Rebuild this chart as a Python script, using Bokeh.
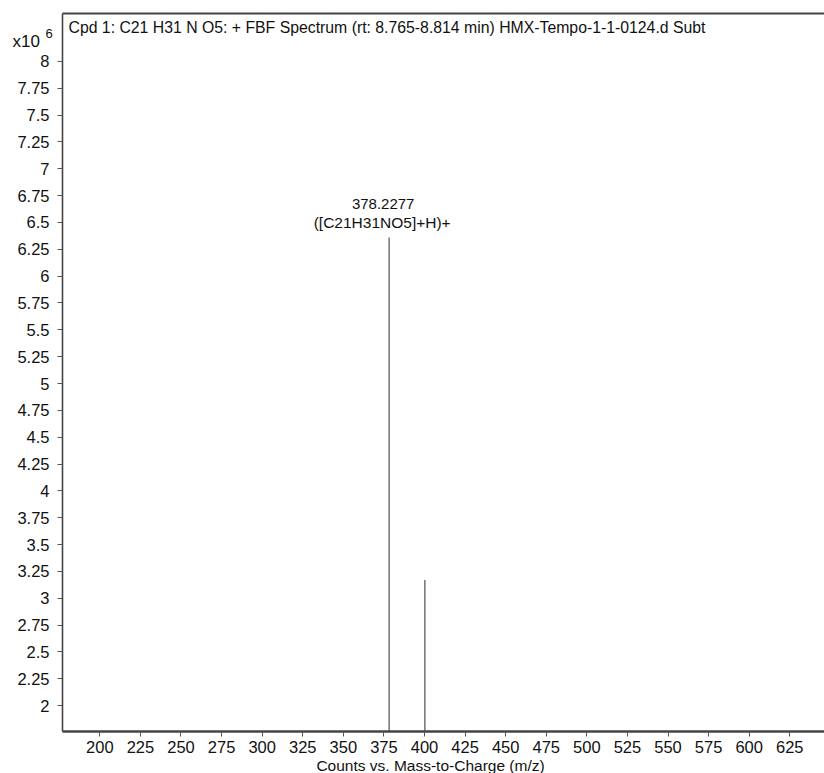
from bokeh.plotting import figure
from bokeh.models import Range1d, FixedTicker, Label
from bokeh.core.properties import value
from bokeh.embed import file_html
from bokeh.resources import INLINE

# Data (intensity in units of 10^6 counts)
mz = [378.2277, 400.21]
intensity = [6.36, 3.17]
peak_label_mz = ["378.2277"]
peak_label_formula = ["([C21H31NO5]+H)+"]
x_ticks = [200, 225, 250, 275, 300, 325, 350, 375, 400, 425, 450, 475, 500, 525, 550, 575, 600, 625]
y_ticks = [2, 2.25, 2.5, 2.75, 3, 3.25, 3.5, 3.75, 4, 4.25, 4.5, 4.75, 5, 5.25, 5.5, 5.75, 6, 6.25, 6.5, 6.75, 7, 7.25, 7.5, 7.75, 8]
title_text = "Cpd 1: C21 H31 N O5: + FBF Spectrum (rt: 8.765-8.814 min) HMX-Tempo-1-1-0124.d  Subt"
x_label = "Counts vs. Mass-to-Charge (m/z)"

FONT = "Liberation Sans"
W, H = 824, 773
# visible plot box (data limits)
bx0, bx1 = 177.0, 646.4
by0, by1 = 1.758, 8.447
pxu = 1.6235   # px per m/z unit
pyu = 107.33   # px per 1e6 counts
# frame covers the whole canvas; axes drawn at fixed locations
fx0 = bx0 - 62 / pxu
fx1 = bx1
fy0 = by0 - 42 / pyu
fy1 = by1 + 13 / pyu

p = figure(width=W, height=H, output_backend="svg", toolbar_location=None,
           x_range=Range1d(fx0, fx1), y_range=Range1d(fy0, fy1),
           min_border=0)
p.outline_line_color = None
p.grid.visible = False
p.background_fill_color = "white"
p.border_fill_color = "white"

p.segment(x0=mz, y0=[by0] * len(mz), x1=mz, y1=intensity, line_color="#7a7a7a", line_width=1.6)

for ax in (p.xaxis, p.yaxis):
    ax.axis_line_color = None
    ax.major_tick_line_color = "#555555"
    ax.major_tick_out = 5
    ax.major_tick_in = 0
    ax.minor_tick_line_color = None
    ax.major_label_text_font = FONT
    ax.major_label_text_font_size = "16.5px"
    ax.major_label_text_color = "#111111"
p.xaxis.fixed_location = by0
p.yaxis.fixed_location = bx0
p.xaxis.ticker = FixedTicker(ticks=x_ticks)
p.yaxis.ticker = FixedTicker(ticks=y_ticks)
p.yaxis.major_label_overrides = {t: ("%g" % t) for t in y_ticks}
p.xaxis.major_label_standoff = 5
p.yaxis.major_label_standoff = 8

# box lines: top, left, bottom
p.segment(x0=[bx0], y0=[by1], x1=[bx1], y1=[by1], line_color="#444444", line_width=2)
p.segment(x0=[bx0], y0=[by0], x1=[bx0], y1=[by1], line_color="#444444", line_width=1.6)
p.segment(x0=[bx0], y0=[by0], x1=[bx1], y1=[by0], line_color="#444444", line_width=2.5)

p.add_layout(Label(x=bx0 + 6 / pxu, y=by1 - 14 / pyu, text=title_text, text_font=FONT,
                   text_font_size="15.8px", text_baseline="middle", text_color="#111111"))

p.text(x=[mz[0]], y=[intensity[0]], text=peak_label_mz, text_font=value(FONT), text_font_size="15px",
       text_align="center", text_baseline="middle", x_offset=-6, y_offset=-34, text_color="#111111")
p.text(x=[mz[0]], y=[intensity[0]], text=peak_label_formula, text_font=value(FONT), text_font_size="15.5px",
       text_align="center", text_baseline="middle", x_offset=-7, y_offset=-15, text_color="#111111")

# exponent marker
p.add_layout(Label(x=bx0 + (12 - 62) / pxu, y=by1 - (41 - 13) / pyu, text="x10", text_font=FONT,
                   text_font_size="17px", text_baseline="middle", text_color="#111111"))
p.add_layout(Label(x=bx0 + (45 - 62) / pxu, y=by1 - (33 - 13) / pyu, text="6", text_font=FONT,
                   text_font_size="13px", text_baseline="middle", text_color="#111111"))

# x axis label
p.add_layout(Label(x=200 + (430 - 99.3) / pxu, y=2 - (765 - 705) / pyu, text=x_label,
                   text_font=FONT, text_font_size="15.5px", text_align="center", text_baseline="middle",
                   text_color="#111111"))

open("out.html", "w").write(file_html(p, INLINE))
